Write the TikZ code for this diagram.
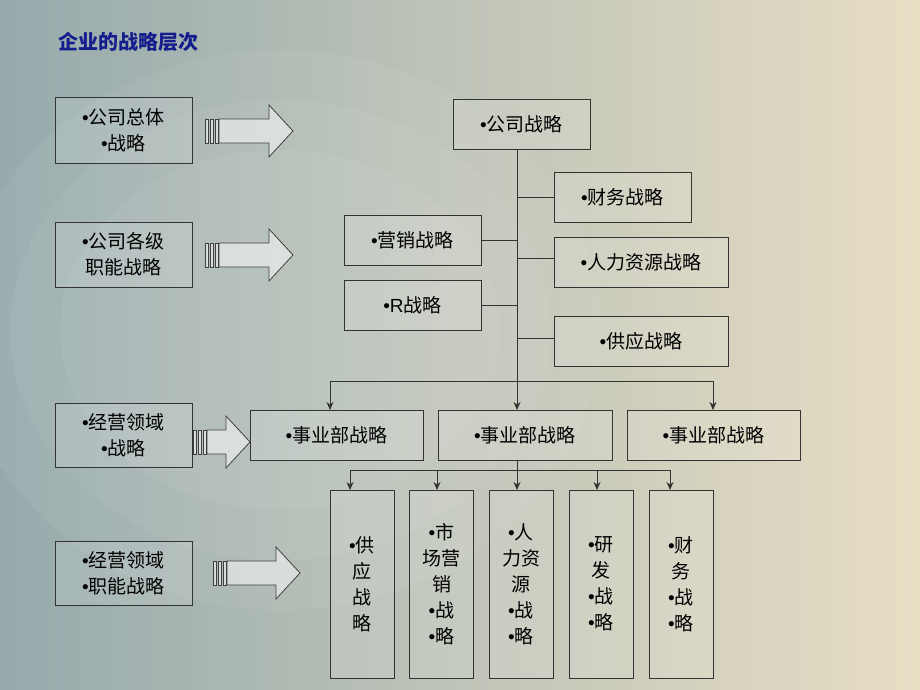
\documentclass[tikz,border=0pt]{standalone}
\usepackage{fontspec}
\usetikzlibrary{arrows.meta}
\newfontfamily\cjk{Noto Sans CJK SC}
\newfontfamily\lib{Liberation Sans}
\newcommand\bu{{\lib •}}
\definecolor{bgl}{RGB}{150,170,172}
\definecolor{bgr}{RGB}{232,222,196}
\definecolor{ttl}{RGB}{20,30,140}
\begin{document}
\newcommand\myarrow[3]{%
 \pgfmathsetmacro\xs{#1+14}\pgfmathsetmacro\xh{#2-24}%
 \draw[arr] (#1,#3-12) rectangle ++(3,24);
 \draw[arr] (#1+5,#3-12) rectangle ++(3,24);
 \draw[arr] (#1+10,#3-12) rectangle ++(3,24);
 \draw[arr] (\xs,#3-12) -- (\xh,#3-12) -- (\xh,#3-26) -- (#2,#3) -- (\xh,#3+26) -- (\xh,#3+12) -- (\xs,#3+12) -- cycle;}
\begin{tikzpicture}[x=1pt,y=-1pt,font=\cjk\fontsize{19}{26}\selectfont,
 box/.style={draw=black!80,line width=0.8pt,fill=white,fill opacity=0.12,text opacity=1,inner sep=0,align=center},
 ln/.style={draw=black!80,line width=0.8pt},
 to/.style={ln,-{Stealth[length=8pt,width=7pt]}},
 arr/.style={draw=black!75,line width=0.8pt,fill=white,fill opacity=0.5}]
\useasboundingbox (0,0) rectangle (920,690);
\begin{scope}
\clip (0,0) rectangle (920,690);
\shade[left color=bgl,right color=bgr] (0,0) rectangle (920,690);
\foreach \r/\o in {300/0.05,250/0.05,200/0.05}
 \fill[white,opacity=\o] (280,330) ellipse (\r+20 and \r-20);
\end{scope}
\node[anchor=west,font=\cjk\bfseries\fontsize{20}{24}\selectfont,text=ttl] (title) at (55,42) {企业的战略层次};
% left boxes
\node[box,minimum width=137,minimum height=66] (l1) at (123.5,130) {\bu 公司总体\\\bu 战略};
\node[box,minimum width=137,minimum height=65] (l2) at (123.5,254.5) {\bu 公司各级\\职能战略};
\node[box,minimum width=137,minimum height=64] (l3) at (123.5,435) {\bu 经营领域\\\bu 战略};
\node[box,minimum width=137,minimum height=64] (l4) at (123.5,573) {\bu 经营领域\\\bu 职能战略};
\myarrow{205}{293}{131}
\myarrow{205}{293}{255}
\myarrow{193}{250}{442}
\myarrow{213}{300}{573}
% top
\node[box,minimum width=137,minimum height=50] (gs) at (521.5,124) {\bu 公司战略};
\node[box,minimum width=137,minimum height=50] (cw) at (622.5,197) {\bu 财务战略};
\node[box,minimum width=137,minimum height=50] (yx) at (412.5,240) {\bu 营销战略};
\node[box,minimum width=174,minimum height=50] (rl) at (641,262) {\bu 人力资源战略};
\node[box,minimum width=137,minimum height=50] (rd) at (412.5,305) {\bu{\lib R}战略};
\node[box,minimum width=174,minimum height=50] (gy) at (641,341) {\bu 供应战略};
\coordinate (t1) at (517,149);
\coordinate (t2) at (517,381);
\draw[ln] (t1) -- (t2);
\draw[ln] (517,197) -- (cw.west);
\draw[ln] (yx.east) -- (517,240);
\draw[ln] (517,258) -- (554,258);
\draw[ln] (rd.east) -- (517,305);
\draw[ln] (517,338) -- (554,338);
% business
\node[box,minimum width=173,minimum height=50] (b1) at (336.5,435) {\bu 事业部战略};
\node[box,minimum width=174,minimum height=50] (b2) at (525,435) {\bu 事业部战略};
\node[box,minimum width=173,minimum height=50] (b3) at (713.5,435) {\bu 事业部战略};
\draw[ln] (330,381) -- (713,381);
\draw[to] (330,381) -- (330,410);
\draw[to] (t2) -- (517,410);
\draw[to] (713,381) -- (713,410);
% functional
\foreach \n/\x/\t in {f1/362/\bu 供\\应\\战\\略, f2/441.5/\bu 市\\场营\\销\\\bu 战\\\bu 略, f3/521/\bu 人\\力资\\源\\\bu 战\\\bu 略, f4/601/\bu 研\\发\\\bu 战\\\bu 略, f5/681/\bu 财\\务\\\bu 战\\\bu 略}
 \node[box,minimum width=64,minimum height=188] (\n) at (\x,584) {\t};
\draw[ln] (517,460) -- (517,470);
\draw[ln] (350,470) -- (670,470);
\foreach \x in {350,437,517,597,670} \draw[to] (\x,470) -- (\x,490);
\end{tikzpicture}
\end{document}
